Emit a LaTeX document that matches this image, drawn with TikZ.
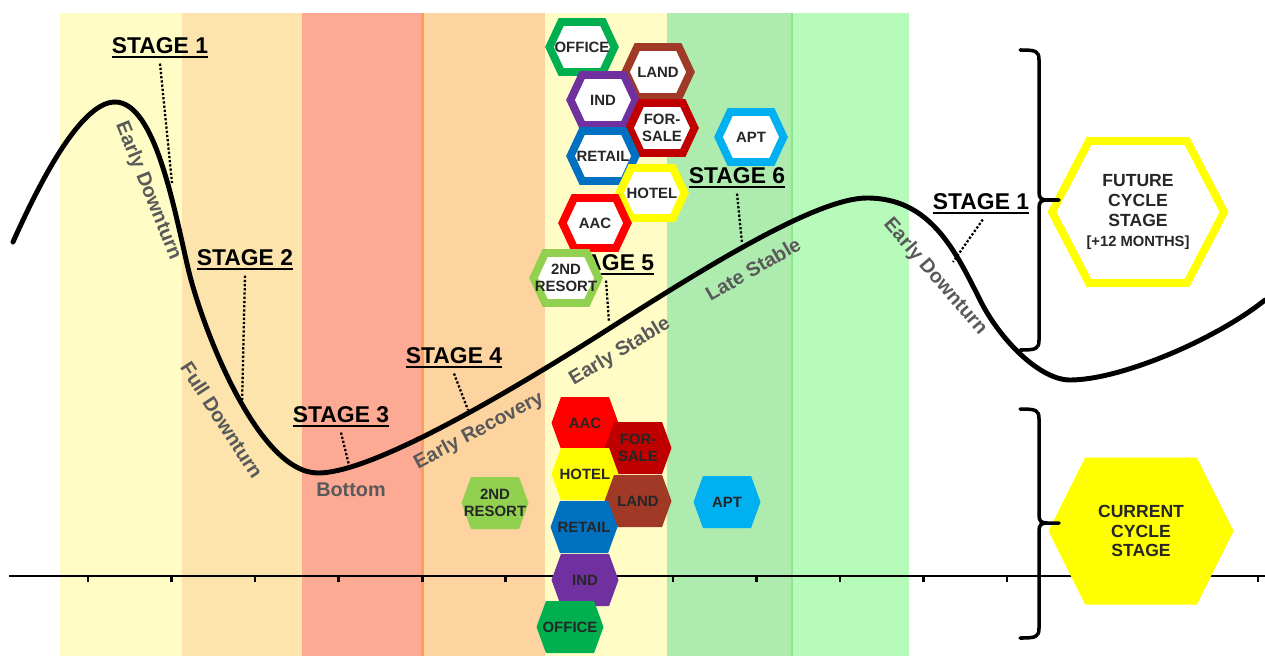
\documentclass[tikz,border=0pt]{standalone}
\usepackage{fontspec}
\setmainfont{Liberation Sans}
\usetikzlibrary{shapes.symbols}
\definecolor{cycle@pale}{RGB}{255,253,197}
\definecolor{cycle@tan}{RGB}{252,228,172}
\definecolor{cycle@salmon}{RGB}{253,170,149}
\definecolor{cycle@peach}{RGB}{253,212,159}
\definecolor{cycle@green}{RGB}{174,235,174}
\definecolor{cycle@mint}{RGB}{183,251,186}
\definecolor{cycle@edge}{RGB}{250,160,90}
\definecolor{cycle@seam}{RGB}{140,230,140}
\definecolor{cycle@gray}{RGB}{89,89,89}
\definecolor{cycle@ink}{RGB}{38,38,38}
\definecolor{cycle@office}{RGB}{0,176,80}
\definecolor{cycle@land}{RGB}{160,58,38}
\definecolor{cycle@ind}{RGB}{112,48,160}
\definecolor{cycle@sale}{RGB}{192,0,0}
\definecolor{cycle@retail}{RGB}{0,112,192}
\definecolor{cycle@hotel}{RGB}{255,255,0}
\definecolor{cycle@aac}{RGB}{255,0,0}
\definecolor{cycle@resort}{RGB}{146,208,80}
\definecolor{cycle@apt}{RGB}{0,176,240}

\tikzset{
  stagelbl/.style={font=\bfseries\fontsize{13}{15}\selectfont, inner sep=0pt, anchor=base,
    append after command={([yshift=-2.2pt]\tikzlastnode.base west)
      edge[line width=1.3pt] ([yshift=-2.2pt]\tikzlastnode.base east)}},
  leader/.style={line width=1.3pt, dash pattern=on 1.3pt off 1.1pt},
  phase/.style={font=\bfseries\fontsize{11.3}{13}\selectfont, text=cycle@gray, inner sep=0pt},
  hexa/.style={signal, signal to=east and west, inner xsep=-14pt, inner ysep=0pt,
    align=center, text=cycle@ink},
  hexring/.style={hexa, signal pointer angle=130, draw=#1, line width=4.5pt, fill=white,
    minimum width=13mm, minimum height=10mm, font=\bfseries\fontsize{8.5}{9.8}\selectfont},
  hexfill/.style={hexa, signal pointer angle=140, fill=#1, draw=none,
    minimum width=13.4mm, minimum height=10.4mm, font=\bfseries\fontsize{8.5}{9.8}\selectfont},
  bigring/.style={hexa, signal pointer angle=125, draw=cycle@hotel, line width=4.5pt, fill=white,
    minimum width=34.4mm, minimum height=28.4mm, font=\bfseries\fontsize{10}{11.3}\selectfont},
  bigfill/.style={hexa, signal pointer angle=127, fill=cycle@hotel, draw=none,
    minimum width=37mm, minimum height=29.4mm, font=\bfseries\fontsize{10}{11.3}\selectfont},
  axisline/.style={line width=1.5pt},
  brace/.style={line width=2pt, line cap=round},
}

\begin{document}
\begin{tikzpicture}[x=0.2mm, y=-0.2mm]
\useasboundingbox (0,0) rectangle (1265,656);

% bands
\foreach \xa/\xb/\col in {60/182/cycle@pale, 182/302/cycle@tan, 302/422/cycle@salmon,
  422/545/cycle@peach, 545/667/cycle@pale, 667/792/cycle@green, 792/909/cycle@mint}
  \fill[\col] (\xa,13) rectangle (\xb,656);
\draw[cycle@edge, line width=1.2pt] (422.5,13) -- (422.5,656);
\draw[cycle@seam, line width=0.6pt] (792,13) -- (792,656);

% axis
\draw[axisline] (9,576) -- (1265,576);
\foreach \i in {0,...,14}
  \draw[axisline] ({88+83.56*\i},576) -- ++(0,6);

% cycle curve
\draw[line width=2.8pt, line cap=round] (13,242) .. controls (38,186) and (80,102) .. (115,102)
  .. controls (155,102) and (174,208) .. (188,268)
  .. controls (202,328) and (258,473) .. (318,473)
  .. controls (370,473) and (497,400) .. (607,330)
  .. controls (707,266) and (817,198) .. (867,198)
  .. controls (930,198) and (955,250) .. (980,300)
  .. controls (1000,340) and (1040,380) .. (1070,380)
  .. controls (1120,380) and (1215,340) .. (1265,300);

% phases
\node[phase, rotate=-68] (ph1) at (148,191) {Early Downturn};
\node[phase, rotate=-57] (ph2) at (222,420) {Full Downturn};
\node[phase] (ph3) at (351,490) {Bottom};
\node[phase, rotate=28] (ph4) at (479,431) {Early Recovery};
\node[phase, rotate=31] (ph5) at (620,352) {Early Stable};
\node[phase, rotate=30] (ph6) at (753,269) {Late Stable};
\node[phase, rotate=-49] (ph7) at (935,277) {Early Downturn};

% stages
\node[stagelbl] (s1) at (160,53) {STAGE 1};
\node[stagelbl] (s2) at (245,265) {STAGE 2};
\node[stagelbl] (s3) at (341,422) {STAGE 3};
\node[stagelbl] (s4) at (454,363) {STAGE 4};
\node[stagelbl] (s5) at (606,270) {STAGE 5};
\node[stagelbl] (s6) at (737,183) {STAGE 6};
\node[stagelbl] (s7) at (981,209) {STAGE 1};

\coordinate (c1) at (172,183);
\coordinate (c2) at (242,405);
\coordinate (c3) at (349,465);
\coordinate (c4) at (468,410);
\coordinate (c5) at (609,322);
\coordinate (c6) at (742,243);
\coordinate (c7) at (953,262);
\foreach \s/\c in {s1/c1, s2/c2, s3/c3, s4/c4, s5/c5, s6/c6}
  \draw[leader] ([yshift=-6pt]\s.base) -- (\c);
\draw[leader] ([xshift=1pt, yshift=-6pt]s7.base) -- (c7);

% future cycle
\node[hexring=cycle@office] (office-f) at (582,47) {OFFICE};
\node[hexring=cycle@land] (land-f) at (658,72) {LAND};
\node[hexring=cycle@ind] (ind-f) at (603,100) {IND};
\node[hexring=cycle@sale] (sale-f) at (662,128) {FOR-\\SALE};
\node[hexring=cycle@retail] (retail-f) at (603,156) {RETAIL};
\node[hexring=cycle@hotel] (hotel-f) at (652,193) {HOTEL};
\node[hexring=cycle@aac] (aac-f) at (595,223) {AAC};
\node[hexring=cycle@resort] (resort-f) at (566,278) {2ND\\RESORT};
\node[hexring=cycle@apt] (apt-f) at (751,137) {APT};

% current cycle
\node[hexfill=cycle@aac] (aac-c) at (585,423) {AAC};
\node[hexfill=cycle@sale] (sale-c) at (638,448) {FOR-\\SALE};
\node[hexfill=cycle@hotel] (hotel-c) at (585,474) {HOTEL};
\node[hexfill=cycle@land] (land-c) at (638,501) {LAND};
\node[hexfill=cycle@retail] (retail-c) at (584,527) {RETAIL};
\node[hexfill=cycle@ind] (ind-c) at (585,580) {IND};
\node[hexfill=cycle@office] (office-c) at (570,627) {OFFICE};
\node[hexfill=cycle@resort] (resort-c) at (495,503) {2ND\\RESORT};
\node[hexfill=cycle@apt] (apt-c) at (727,502) {APT};

% legend
\node[bigring] (future) at (1138,212)
  {FUTURE\\CYCLE\\STAGE\\{\fontsize{8.4}{11.3}\selectfont[+12 MONTHS]}};
\node[bigfill] (current) at (1141,531) {CURRENT\\CYCLE\\STAGE};

\draw[brace] (1020,50) .. controls (1036,50) and (1039,51) .. (1039,60)
  -- (1039,192) .. controls (1039,198) and (1041,200) .. (1047,200) -- (1059,200);
\draw[brace] (1047,200) .. controls (1041,200) and (1039,202) .. (1039,208)
  -- (1039,340) .. controls (1039,349) and (1036,350) .. (1020,350);

\draw[brace] (1020,409) .. controls (1036,409) and (1039,410) .. (1039,419)
  -- (1039,515) .. controls (1039,521) and (1041,523) .. (1047,523) -- (1059,523);
\draw[brace] (1047,523) .. controls (1041,523) and (1039,525) .. (1039,531)
  -- (1039,628) .. controls (1039,637) and (1036,638) .. (1020,638);

\end{tikzpicture}
\end{document}
